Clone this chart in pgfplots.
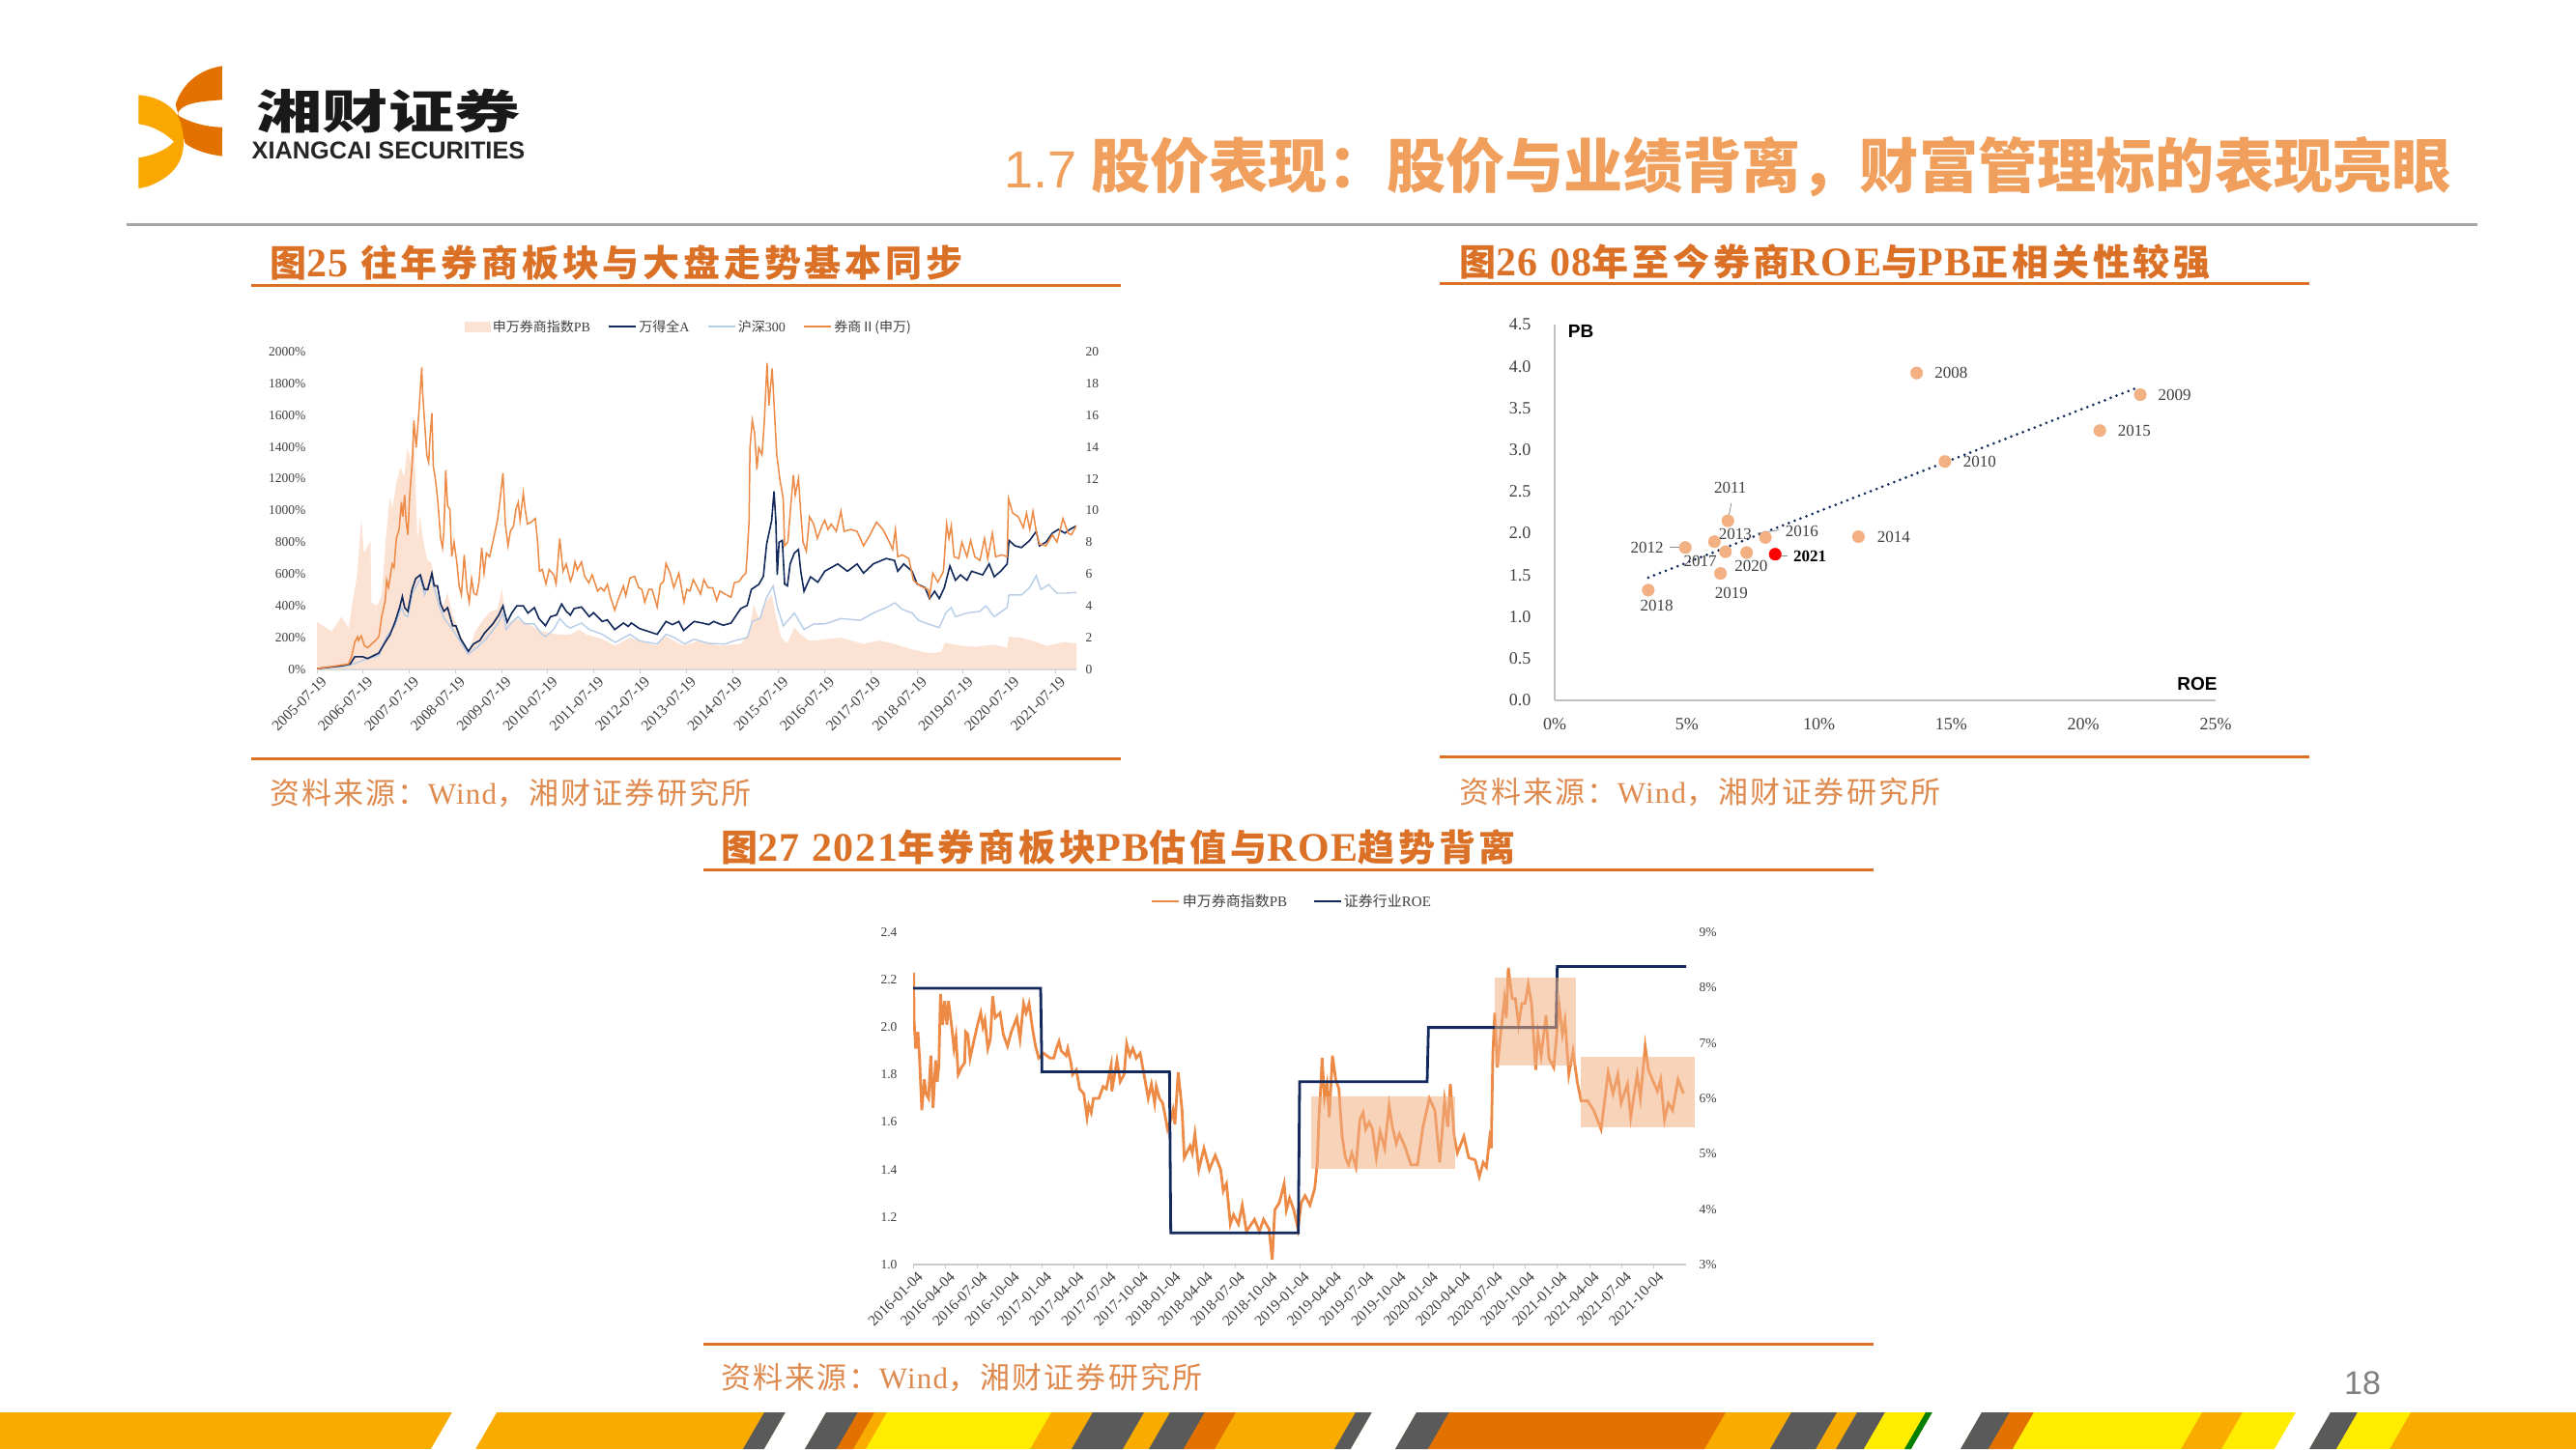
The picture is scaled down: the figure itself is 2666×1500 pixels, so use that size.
\documentclass[border=0pt]{standalone}
\usepackage{fontspec}
\usepackage{pgfplots}
\pgfplotsset{compat=1.18}
\setmainfont{Liberation Serif}
\newfontfamily\cjk{Noto Sans CJK SC}
\newfontfamily\cjks[LetterSpace=7]{Noto Sans CJK SC}
\newfontfamily\cjkt[LetterSpace=10]{Noto Sans CJK SC}
\newfontfamily\lats[LetterSpace=4]{Liberation Serif}
\newfontfamily\hei{Liberation Sans}
\definecolor{rust}{HTML}{DB7127}
\definecolor{src}{HTML}{DE8A4E}
\definecolor{head}{HTML}{F0A05C}
\definecolor{pale}{HTML}{FBE2D3}
\definecolor{lineor}{HTML}{ED8A45}
\definecolor{navy}{HTML}{13295B}
\definecolor{sky}{HTML}{B7CDE8}
\definecolor{dot}{HTML}{F2B083}
\definecolor{txt}{HTML}{404040}
\definecolor{bandy}{HTML}{F9AB00}
\definecolor{bandl}{HTML}{FFEC00}
\definecolor{bando}{HTML}{E27100}
\definecolor{bandg}{HTML}{5A5A5A}
\newcommand\tf{\fontsize{13.5}{15}\selectfont}
\newcommand\df{\fontsize{15.5}{17}\selectfont}
\newcommand\tl[1]{{\fontsize{42}{44}\selectfont\bfseries\lats #1}}
\newcommand\st[3]{\fill[#1] (#2,1462)--(#3,1462)--(#3-22,1500)--(#2-22,1500)--cycle;}
\pgfplotsset{
  base/.style={
    scale only axis, enlargelimits=false,
    every tick label/.append style={font=\tf, text=txt},
    legend cell align=left,
    legend image code/.code={\draw[##1] (0pt,0pt)--(28pt,0pt);},
  },
}
\begin{document}
\begin{tikzpicture}
\path[use as bounding box, fill=white] (0pt,0pt) rectangle (2666pt,1500pt);

% chart 1: PB area on the right axis, index lines on the left axis
\begin{axis}[base, at={(328pt,807pt)}, anchor=south west, width=786pt, height=329pt,
  xmin=0, xmax=16.45, ymin=0, ymax=20,
  axis x line=none, axis y line*=right,
  y axis line style={draw=none}, ytick style={draw=none},
  ytick={0,2,...,20}, yticklabels={0,2,4,6,8,10,12,14,16,18,20},
  y tick label style={xshift=6pt}]
\addplot[fill=pale, draw=none] coordinates {
(0,3.0)(0.15,2.7)(0.32,2.4)(0.53,3.3)(0.69,2.6)(0.77,4.2)(0.88,6.1)(0.96,9.5)(1.02,7.3)(1.09,7.7)(1.16,8.1)(1.18,4.2)(1.30,4.0)(1.40,4.6)(1.49,8.1)(1.58,10.9)(1.63,10.1)(1.72,11.7)(1.81,12.7)(1.89,12.1)(1.96,14.0)(2.03,13.1)(2.09,15.4)(2.13,12)(2.18,8.1)(2.23,9.7)(2.30,8.1)(2.39,6.9)(2.48,6.7)(2.62,4.6)(2.73,4.0)(2.83,4.8)(2.94,3.4)(3.08,2.4)(3.29,1.1)(3.43,2.4)(3.57,3.0)(3.74,3.6)(3.91,3.8)(4.01,5.1)(4.09,2.8)(4.29,3.2)(4.50,3.0)(4.78,2.5)(5.02,2.3)(5.26,2.2)(5.49,2.2)(5.69,2.5)(5.83,2.2)(6.18,1.9)(6.46,1.5)(6.78,2.0)(7.09,1.7)(7.37,1.5)(7.54,2.1)(7.93,1.5)(8.28,1.8)(8.70,1.5)(9.18,1.6)(9.36,2.3)(9.46,4.1)(9.57,3.2)(9.74,4.3)(9.85,4.7)(9.95,3.2)(10.06,2.0)(10.18,1.62)(10.34,2.63)(10.47,2.23)(10.65,1.82)(10.8,1.83)(11.35,2.0)(11.84,1.6)(12.19,1.83)(12.54,1.56)(12.89,1.26)(13.24,1.03)(13.52,1.1)(13.60,1.69)(13.94,1.49)(14.28,1.42)(14.63,1.56)(14.95,1.37)(14.99,2.06)(15.26,2.0)(15.58,1.72)(15.82,1.49)(16.17,1.72)(16.45,1.65)} \closedcycle;
\end{axis}

\begin{axis}[base, at={(328pt,807pt)}, anchor=south west, width=786pt, height=329pt,
  xmin=0, xmax=16.45, ymin=0, ymax=2000,
  axis x line*=bottom, axis y line*=left,
  axis line style={-, draw=black!15, line width=1.5pt},
  y axis line style={draw=none}, ytick style={draw=none},
  xtick style={draw=black!20, line width=1pt}, xtick align=outside, major tick length=4pt,
  xtick={0,1,...,16},
  xticklabels={2005-07-19,2006-07-19,2007-07-19,2008-07-19,2009-07-19,2010-07-19,2011-07-19,2012-07-19,2013-07-19,2014-07-19,2015-07-19,2016-07-19,2017-07-19,2018-07-19,2019-07-19,2020-07-19,2021-07-19},
  x tick label style={font=\df, rotate=45, anchor=north east, inner sep=1pt, xshift=2pt, yshift=-3pt},
  ytick={0,200,...,2000},
  yticklabels={0\%,200\%,400\%,600\%,800\%,1000\%,1200\%,1400\%,1600\%,1800\%,2000\%},
  y tick label style={xshift=-8pt},
  legend style={at={(0.49,1.079)}, anchor=center, draw=none, fill=none, legend columns=-1,
    font=\fontsize{14}{16}\selectfont, text=txt, /tikz/every even column/.append style={column sep=16pt}, inner sep=0pt}]
\addlegendimage{legend image code/.code={\fill[pale] (0pt,-5pt) rectangle (26pt,5pt);}}
\addlegendentry{{\cjk 申万券商指数}PB}
\addplot[sky, line width=1.4pt, forget plot] coordinates {
(0,5)(0.68,23)(0.99,57)(1.34,87)(1.51,206)(1.69,275)(1.83,389)(1.90,343)(1.97,332)(2.07,480)(2.24,572)(2.33,469)(2.47,572)(2.56,492)(2.66,389)(2.76,320)(2.94,252)(3.11,172)(3.28,96)(3.46,137)(3.67,194)(3.94,297)(4.03,355)(4.10,252)(4.22,297)(4.36,332)(4.50,286)(4.71,286)(4.85,229)(4.95,206)(5.13,252)(5.26,320)(5.40,275)(5.49,261)(5.73,292)(5.90,251)(6.18,221)(6.46,170)(6.78,221)(6.99,180)(7.37,160)(7.56,221)(7.75,200)(7.96,160)(8.17,190)(8.49,164)(8.84,160)(9.04,180)(9.32,200)(9.43,302)(9.60,322)(9.73,446)(9.88,525)(9.98,385)(10.10,274)(10.34,355)(10.55,252)(10.76,286)(11.0,286)(11.35,320)(11.77,309)(12.05,355)(12.33,389)(12.52,419)(12.68,378)(12.89,355)(13.03,309)(13.24,286)(13.48,263)(13.62,355)(13.74,389)(13.83,332)(14.08,355)(14.36,366)(14.49,400)(14.67,332)(14.95,389)(14.99,469)(15.26,469)(15.44,515)(15.58,590)(15.68,503)(15.85,533)(16.03,480)(16.24,480)(16.45,485)};
\addplot[navy, line width=1.6pt, forget plot] coordinates {
(0,5)(0.54,23)(0.72,34)(0.82,80)(0.99,80)(1.10,69)(1.34,103)(1.48,172)(1.58,217)(1.69,297)(1.79,389)(1.85,458)(1.90,389)(1.97,366)(2.06,503)(2.14,572)(2.24,595)(2.33,503)(2.40,503)(2.49,606)(2.54,526)(2.61,526)(2.68,412)(2.75,366)(2.83,389)(2.94,275)(3.01,275)(3.11,194)(3.28,114)(3.39,160)(3.53,183)(3.63,229)(3.81,286)(3.94,343)(4.03,400)(4.12,297)(4.22,355)(4.33,400)(4.47,400)(4.57,355)(4.71,389)(4.81,320)(4.95,275)(5.06,332)(5.19,343)(5.30,412)(5.40,366)(5.49,342)(5.57,383)(5.73,393)(5.90,332)(5.99,357)(6.18,302)(6.29,312)(6.45,251)(6.64,292)(6.74,271)(6.81,292)(6.99,257)(7.16,241)(7.37,221)(7.56,302)(7.70,282)(7.84,302)(7.94,245)(8.17,302)(8.35,292)(8.49,282)(8.59,302)(8.80,278)(8.97,292)(9.18,383)(9.32,403)(9.41,504)(9.57,535)(9.67,586)(9.74,788)(9.85,938)(9.90,1121)(9.94,938)(9.97,595)(10.01,801)(10.08,812)(10.13,538)(10.19,526)(10.25,664)(10.34,732)(10.43,755)(10.48,618)(10.55,492)(10.69,583)(10.85,549)(11.0,618)(11.14,641)(11.28,664)(11.49,618)(11.70,664)(11.84,606)(12.05,664)(12.33,698)(12.51,686)(12.58,618)(12.71,664)(12.89,618)(13.0,538)(13.17,515)(13.27,446)(13.38,492)(13.48,446)(13.59,515)(13.71,652)(13.83,561)(13.94,595)(14.08,561)(14.18,618)(14.42,595)(14.56,664)(14.67,583)(14.81,618)(14.95,664)(14.99,812)(15.12,778)(15.26,767)(15.44,812)(15.58,869)(15.65,778)(15.79,801)(15.93,858)(16.06,881)(16.20,858)(16.31,881)(16.45,904)};
\addplot[lineor, line width=1.5pt, forget plot] coordinates {
(0,5)(0.26,16)(0.51,27)(0.68,34)(0.75,80)(0.82,172)(0.88,206)(0.90,183)(0.96,211)(1.03,149)(1.10,137)(1.17,156)(1.27,183)(1.34,206)(1.41,343)(1.48,435)(1.51,561)(1.55,515)(1.63,663)(1.67,641)(1.72,824)(1.78,881)(1.83,1053)(1.86,961)(1.90,1098)(1.93,938)(1.97,847)(2.01,1098)(2.07,1327)(2.10,1567)(2.15,1396)(2.21,1625)(2.27,1900)(2.29,1740)(2.38,1350)(2.42,1304)(2.45,1464)(2.49,1613)(2.52,1281)(2.57,1190)(2.62,1052)(2.68,824)(2.72,766)(2.75,869)(2.79,1254)(2.83,1030)(2.88,1007)(2.92,709)(2.97,801)(3.03,675)(3.08,526)(3.13,469)(3.19,721)(3.25,503)(3.30,423)(3.35,572)(3.40,480)(3.46,469)(3.51,549)(3.57,766)(3.62,606)(3.67,732)(3.74,709)(3.81,801)(3.91,938)(3.96,1052)(4.03,1236)(4.08,915)(4.14,778)(4.19,869)(4.26,904)(4.31,1007)(4.36,1052)(4.40,938)(4.47,1110)(4.51,1007)(4.56,915)(4.64,927)(4.73,950)(4.78,801)(4.82,618)(4.88,629)(4.96,538)(5.03,629)(5.13,595)(5.18,538)(5.26,824)(5.33,618)(5.40,664)(5.49,555)(5.54,596)(5.59,677)(5.64,626)(5.73,677)(5.80,586)(5.89,545)(5.96,596)(6.08,494)(6.15,515)(6.22,494)(6.29,535)(6.36,454)(6.45,373)(6.53,444)(6.64,525)(6.69,464)(6.78,575)(6.88,586)(6.97,515)(7.04,504)(7.10,423)(7.19,504)(7.26,504)(7.37,393)(7.44,535)(7.51,555)(7.56,667)(7.65,606)(7.73,515)(7.84,606)(7.95,423)(8.01,504)(8.08,494)(8.15,565)(8.24,515)(8.31,474)(8.38,565)(8.47,515)(8.57,515)(8.66,434)(8.73,494)(8.84,474)(8.97,454)(9.04,545)(9.15,555)(9.22,586)(9.29,606)(9.32,727)(9.36,930)(9.38,1396)(9.43,1567)(9.48,1487)(9.53,1258)(9.57,1396)(9.64,1350)(9.69,1556)(9.75,1929)(9.79,1661)(9.86,1894)(9.96,1350)(10.03,1190)(10.10,1075)(10.13,778)(10.20,801)(10.25,984)(10.32,1224)(10.36,1098)(10.43,1201)(10.48,984)(10.53,801)(10.60,744)(10.67,961)(10.76,915)(10.84,824)(10.94,904)(11.0,938)(11.07,881)(11.14,915)(11.25,869)(11.35,995)(11.42,869)(11.56,881)(11.70,869)(11.84,778)(11.98,847)(12.12,927)(12.26,881)(12.40,801)(12.47,755)(12.53,881)(12.58,709)(12.68,721)(12.82,698)(12.92,561)(13.06,526)(13.24,503)(13.27,458)(13.34,606)(13.45,549)(13.57,618)(13.64,915)(13.69,824)(13.74,904)(13.80,709)(13.90,698)(13.97,801)(14.08,709)(14.16,812)(14.25,709)(14.36,686)(14.46,824)(14.53,698)(14.63,858)(14.70,709)(14.84,721)(14.95,709)(14.98,1075)(15.07,984)(15.19,961)(15.30,892)(15.37,984)(15.44,881)(15.51,995)(15.58,869)(15.65,789)(15.79,778)(15.93,847)(16.03,801)(16.16,950)(16.27,858)(16.34,847)(16.45,904)};
\addlegendimage{navy, line width=2.4pt}
\addlegendentry{{\cjk 万得全}A}
\addlegendimage{sky, line width=2.4pt}
\addlegendentry{{\cjk 沪深}300}
\addlegendimage{lineor, line width=2.4pt}
\addlegendentry{{\cjk 券商Ⅱ(申万)}}
\end{axis}

% chart 2: ROE against PB
\begin{axis}[base, at={(1609pt,775pt)}, anchor=south west, width=684pt, height=389pt, clip=false,
  xmin=0, xmax=25, ymin=0, ymax=4.5,
  axis x line*=bottom, axis y line*=left,
  axis line style={-, draw=black!25, line width=1.5pt},
  tick style={draw=none},
  xtick={0,5,...,25}, xticklabels={0\%,5\%,10\%,15\%,20\%,25\%},
  ytick={0,0.5,...,4.5}, yticklabels={0.0,0.5,1.0,1.5,2.0,2.5,3.0,3.5,4.0,4.5},
  every tick label/.append style={font=\fontsize{18}{20}\selectfont},
  x tick label style={yshift=-15pt}, y tick label style={xshift=-21pt}]
\addplot[only marks, mark=*, mark size=6.3pt, color=dot, mark options={draw=none}] coordinates {
(13.69,3.92)(22.15,3.66)(14.76,2.86)(6.55,2.15)(4.94,1.83)(6.04,1.90)(11.49,1.96)(20.62,3.23)(7.97,1.95)(6.46,1.78)(3.54,1.32)(6.27,1.52)(7.26,1.77)};
\addplot[only marks, mark=*, mark size=6.3pt, color=red, mark options={draw=none}] coordinates {(8.34,1.75)};
\addplot[navy, line width=3pt, line cap=round, dash pattern=on 0pt off 6.5pt] coordinates {(3.54,1.47)(22.0,3.74)};
\draw[black!45, line width=0.8pt] (axis cs:6.68,2.36)--(axis cs:6.57,2.18);
\draw[black!45, line width=0.8pt] (axis cs:7.65,2.0)--(axis cs:8.49,2.04);
\draw[black!45, line width=0.8pt] (axis cs:4.35,1.83)--(axis cs:4.85,1.83);
\draw[black!45, line width=0.8pt] (axis cs:8.49,1.73)--(axis cs:8.82,1.73);
\tikzset{yr/.style={font=\fontsize{17}{19}\selectfont, text=txt, inner sep=0pt}}
\node[yr] at (axis cs:15.0,3.92) {2008};
\node[yr] at (axis cs:23.45,3.66) {2009};
\node[yr] at (axis cs:21.92,3.23) {2015};
\node[yr] at (axis cs:16.08,2.86) {2010};
\node[yr] at (axis cs:12.82,1.96) {2014};
\node[yr] at (axis cs:6.64,2.55) {2011};
\node[yr] at (axis cs:9.35,2.02) {2016};
\node[yr] at (axis cs:6.83,1.99) {2013};
\node[yr] at (axis cs:3.49,1.83) {2012};
\node[yr] at (axis cs:5.50,1.67) {2017};
\node[yr] at (axis cs:7.43,1.61) {2020};
\node[yr, text=black, font=\fontsize{17}{19}\selectfont\bfseries] at (axis cs:9.65,1.72) {2021};
\node[yr] at (axis cs:6.68,1.28) {2019};
\node[yr] at (axis cs:3.86,1.14) {2018};
\node[inner sep=0pt, font=\hei\bfseries\fontsize{19}{21}\selectfont] at (axis cs:0.99,4.42) {PB};
\node[inner sep=0pt, font=\hei\bfseries\fontsize{19}{21}\selectfont] at (axis cs:24.3,0.20) {ROE};
\end{axis}

% chart 3: ROE steps on the right axis, PB on the left axis
\begin{axis}[base, at={(945pt,191pt)}, anchor=south west, width=800pt, height=344pt,
  xmin=0, xmax=24, ymin=1.0, ymax=2.4,
  axis x line*=bottom, axis y line*=left,
  axis line style={-, draw=black!20, line width=1.2pt},
  y axis line style={draw=none}, ytick style={draw=none},
  xtick style={draw=black!20, line width=1pt}, xtick align=outside, major tick length=4pt,
  xtick={0,1,...,23},
  xticklabels={2016-01-04,2016-04-04,2016-07-04,2016-10-04,2017-01-04,2017-04-04,2017-07-04,2017-10-04,2018-01-04,2018-04-04,2018-07-04,2018-10-04,2019-01-04,2019-04-04,2019-07-04,2019-10-04,2020-01-04,2020-04-04,2020-07-04,2020-10-04,2021-01-04,2021-04-04,2021-07-04,2021-10-04},
  x tick label style={font=\df, rotate=45, anchor=north east, inner sep=1pt, xshift=2pt, yshift=-3pt},
  ytick={1.0,1.2,...,2.4}, yticklabels={1.0,1.2,1.4,1.6,1.8,2.0,2.2,2.4},
  y tick label style={xshift=-13pt},
  legend style={at={(0.49,1.093)}, anchor=center, draw=none, fill=none, legend columns=-1,
    font=\fontsize{15}{17}\selectfont, text=txt, /tikz/every even column/.append style={column sep=24pt}, inner sep=0pt}]
\addplot[lineor, line width=2.8pt] coordinates {
(0.02,2.23)(0.03,2.03)(0.08,1.91)(0.15,1.98)(0.2,1.87)(0.27,1.65)(0.35,1.78)(0.4,1.72)(0.48,1.70)(0.55,1.88)(0.62,1.66)(0.70,1.86)(0.75,1.77)(0.8,1.84)(0.85,2.14)(0.92,2.01)(0.98,2.11)(1.05,2.01)(1.1,2.11)(1.2,2.0)(1.27,1.91)(1.33,1.96)(1.4,1.80)(1.5,1.83)(1.6,1.85)(1.63,1.98)(1.7,1.97)(1.77,1.87)(1.9,1.95)(2.0,2.01)(2.1,2.06)(2.17,2.0)(2.23,2.03)(2.32,1.91)(2.4,1.95)(2.47,2.13)(2.55,2.04)(2.7,2.06)(2.8,1.97)(2.93,1.92)(3.05,1.98)(3.22,2.04)(3.32,1.95)(3.43,2.10)(3.51,2.06)(3.6,2.10)(3.7,2.0)(3.8,1.92)(3.9,1.87)(4.05,1.89)(4.25,1.87)(4.37,1.87)(4.45,1.91)(4.53,1.94)(4.6,1.90)(4.75,1.88)(4.8,1.91)(4.9,1.85)(4.95,1.80)(5.07,1.82)(5.17,1.74)(5.3,1.72)(5.4,1.62)(5.45,1.67)(5.53,1.64)(5.6,1.70)(5.77,1.70)(5.9,1.75)(6.0,1.74)(6.15,1.84)(6.17,1.73)(6.33,1.86)(6.43,1.77)(6.55,1.80)(6.63,1.93)(6.73,1.88)(6.82,1.91)(6.93,1.87)(7.05,1.89)(7.17,1.80)(7.3,1.70)(7.4,1.76)(7.5,1.68)(7.55,1.75)(7.65,1.70)(7.75,1.68)(7.9,1.57)(8.0,1.61)(8.07,1.65)(8.13,1.59)(8.23,1.81)(8.3,1.72)(8.35,1.65)(8.42,1.45)(8.6,1.50)(8.67,1.47)(8.75,1.55)(8.87,1.40)(9.03,1.49)(9.2,1.40)(9.38,1.46)(9.55,1.40)(9.63,1.31)(9.73,1.34)(9.85,1.17)(9.95,1.21)(10.1,1.17)(10.22,1.25)(10.35,1.14)(10.6,1.19)(10.75,1.14)(10.88,1.19)(11.05,1.15)(11.15,1.02)(11.23,1.23)(11.37,1.26)(11.52,1.34)(11.59,1.23)(11.69,1.28)(11.82,1.23)(11.95,1.15)(12.05,1.26)(12.17,1.29)(12.32,1.25)(12.47,1.32)(12.55,1.43)(12.6,1.62)(12.65,1.73)(12.7,1.87)(12.77,1.70)(12.85,1.76)(12.92,1.62)(13.02,1.88)(13.12,1.78)(13.22,1.74)(13.32,1.54)(13.42,1.45)(13.52,1.42)(13.62,1.47)(13.75,1.41)(13.87,1.61)(13.97,1.64)(14.05,1.57)(14.16,1.60)(14.26,1.57)(14.38,1.45)(14.5,1.56)(14.64,1.49)(14.78,1.67)(14.88,1.58)(15.0,1.51)(15.1,1.55)(15.26,1.50)(15.46,1.42)(15.66,1.42)(15.83,1.58)(16.03,1.70)(16.2,1.65)(16.35,1.43)(16.5,1.69)(16.6,1.58)(16.68,1.76)(16.8,1.54)(16.9,1.47)(17.1,1.54)(17.25,1.45)(17.45,1.44)(17.58,1.37)(17.7,1.43)(17.8,1.41)(17.9,1.53)(17.95,1.49)(18.0,1.89)(18.06,2.06)(18.14,1.83)(18.24,1.97)(18.36,2.12)(18.42,2.04)(18.48,2.25)(18.6,2.12)(18.7,2.12)(18.8,2.01)(18.9,2.10)(19.0,2.10)(19.1,2.18)(19.2,2.10)(19.33,1.82)(19.4,1.97)(19.5,1.88)(19.65,2.05)(19.74,1.87)(19.89,1.83)(20.06,2.09)(20.16,1.97)(20.24,2.03)(20.36,1.80)(20.49,1.90)(20.62,1.77)(20.74,1.69)(20.94,1.69)(21.13,1.65)(21.36,1.57)(21.48,1.70)(21.58,1.81)(21.73,1.72)(21.88,1.80)(21.98,1.68)(22.18,1.76)(22.28,1.62)(22.48,1.80)(22.58,1.70)(22.73,1.92)(22.83,1.82)(22.95,1.78)(23.11,1.73)(23.21,1.78)(23.33,1.61)(23.45,1.68)(23.58,1.65)(23.75,1.78)(23.92,1.72)};
\addlegendentry{{\cjk 申万券商指数}PB}
\addlegendimage{navy, line width=2.8pt}
\addlegendentry{{\cjk 证券行业}ROE}
\end{axis}

\begin{axis}[base, at={(945pt,191pt)}, anchor=south west, width=800pt, height=344pt, clip=false,
  xmin=0, xmax=24, ymin=3, ymax=9,
  axis x line=none, axis y line*=right,
  y axis line style={draw=none}, ytick style={draw=none},
  ytick={3,4,...,9}, yticklabels={3\%,4\%,5\%,6\%,7\%,8\%,9\%},
  y tick label style={xshift=10pt}]
\addplot[navy, line width=2.8pt] coordinates {
(0,7.99)(3.96,7.99)(4.0,6.48)(7.96,6.48)(8.0,3.57)(11.96,3.57)(12.0,6.30)(15.96,6.30)(16.0,7.28)(19.96,7.28)(20.0,8.38)(24,8.38)};
% shaded ranges sit over both lines; y values on the 3-9% scale
\addplot[fill=dot, fill opacity=0.55, draw=none] coordinates {(12.37,4.73)(16.83,4.73)(16.83,6.03)(12.37,6.03)} --cycle;
\addplot[fill=dot, fill opacity=0.55, draw=none] coordinates {(18.05,6.60)(20.59,6.60)(20.59,8.18)(18.05,8.18)} --cycle;
\addplot[fill=dot, fill opacity=0.55, draw=none] coordinates {(20.73,5.47)(24.27,5.47)(24.27,6.75)(20.73,6.75)} --cycle;
\end{axis}

% page furniture, positions in reference pixels
\begin{scope}[x=1pt, y=-1pt, yshift=1500pt]
\fill[bandy] (0,1462) rectangle (2666,1500);
\st{white}{468}{514}
\st{bandg}{791}{813}\st{white}{813}{855}\st{bandg}{855}{888}\st{bando}{888}{905}
\st{bandl}{918}{1088}
\st{bandg}{1131}{1184}\st{bandg}{1211}{1247}\st{bando}{1247}{1279}
\st{bandg}{1403}{1420}\st{white}{1420}{1466}\st{bandg}{1466}{1500}\st{bando}{1500}{1786}
\st{bandg}{1854}{1901}\st{bandg}{1922}{1951}\st{bandl}{1951}{1993}\st{green!50!black}{1993}{2000}
\st{white}{2000}{2051}\st{bandg}{2051}{2080}\st{bando}{2080}{2105}\st{bandl}{2105}{2279}
\st{bandl}{2321}{2376}\st{white}{2376}{2412}\st{bandg}{2412}{2440}\st{bandl}{2440}{2495}

\draw[black!35, line width=3pt] (131,233)--(2564,233);
\node[anchor=west, inner sep=0pt, text=head] at (1039,173)
  {\hei\fontsize{54}{60}\selectfont 1.7 \cjk\bfseries\fontsize{61.2}{66}\selectfont 股价表现：股价与业绩背离，财富管理标的表现亮眼};

\foreach \a/\b/\c in {260/1160/296, 260/1160/786, 1490/2390/294, 1490/2390/784, 728/1939/901, 728/1939/1391}
  \draw[rust, line width=3pt] (\a,\c)--(\b,\c);

\node[anchor=west, inner sep=0pt, text=rust] at (279,272)
  {\fontsize{38}{42}\selectfont\bfseries{\cjkt 图}\tl{25 }{\cjkt 往年券商板块与大盘走势基本同步}};
\node[anchor=west, inner sep=0pt, text=rust] at (1510,271)
  {\fontsize{38}{42}\selectfont\bfseries{\cjkt 图}\tl{26 08}{\cjkt 年至今券商}\tl{ROE}{\cjkt 与}\tl{PB}{\cjkt 正相关性较强}};
\node[anchor=west, inner sep=0pt, text=rust] at (746,877)
  {\fontsize{38}{42}\selectfont\bfseries{\cjkt 图}\tl{27 2021}{\cjkt 年券商板块}\tl{PB}{\cjkt 估值与}\tl{ROE}{\cjkt 趋势背离}};
\foreach \x/\y in {279/821, 1510/820, 746/1426}
  \node[anchor=west, inner sep=0pt, text=src] at (\x,\y)
    {\fontsize{31}{34}\selectfont{\cjks 资料来源：}{\lats Wind}{\cjks ，湘财证券研究所}};

\node[inner sep=0pt, text=black!50] at (2445,1432) {\hei\fontsize{34}{36}\selectfont 18};

% logo, in crop coordinates
\begin{scope}[xshift=100pt, yshift=-40pt, x=0.3333pt, y=-0.3333pt]
\fill[bando] (390,85) .. controls (320,95) and (265,140) .. (245,205)
  -- (255,240) .. controls (290,260) and (340,275) .. (390,275)
  -- (390,365) .. controls (345,360) and (300,345) .. (275,325)
  -- (250,240) .. controls (255,200) and (320,195) .. (390,190) -- cycle;
\fill[bandy!90!orange] (130,175) .. controls (195,180) and (250,215) .. (262,265)
  .. controls (280,330) and (270,390) .. (215,430)
  .. controls (185,450) and (160,462) .. (130,465)
  -- (130,370) .. controls (170,365) and (220,345) .. (240,320)
  .. controls (215,295) and (175,270) .. (130,265) -- cycle;
\end{scope}
\node[inner sep=0pt, text=black!90, xscale=1.42] at (402,115) {\cjk\bfseries\fontsize{48}{50}\selectfont 湘财证券};
\node[inner sep=0pt, text=black!85] at (402,156) {\hei\bfseries\fontsize{25.3}{27}\selectfont XIANGCAI SECURITIES};
\end{scope}
\end{tikzpicture}
\end{document}
